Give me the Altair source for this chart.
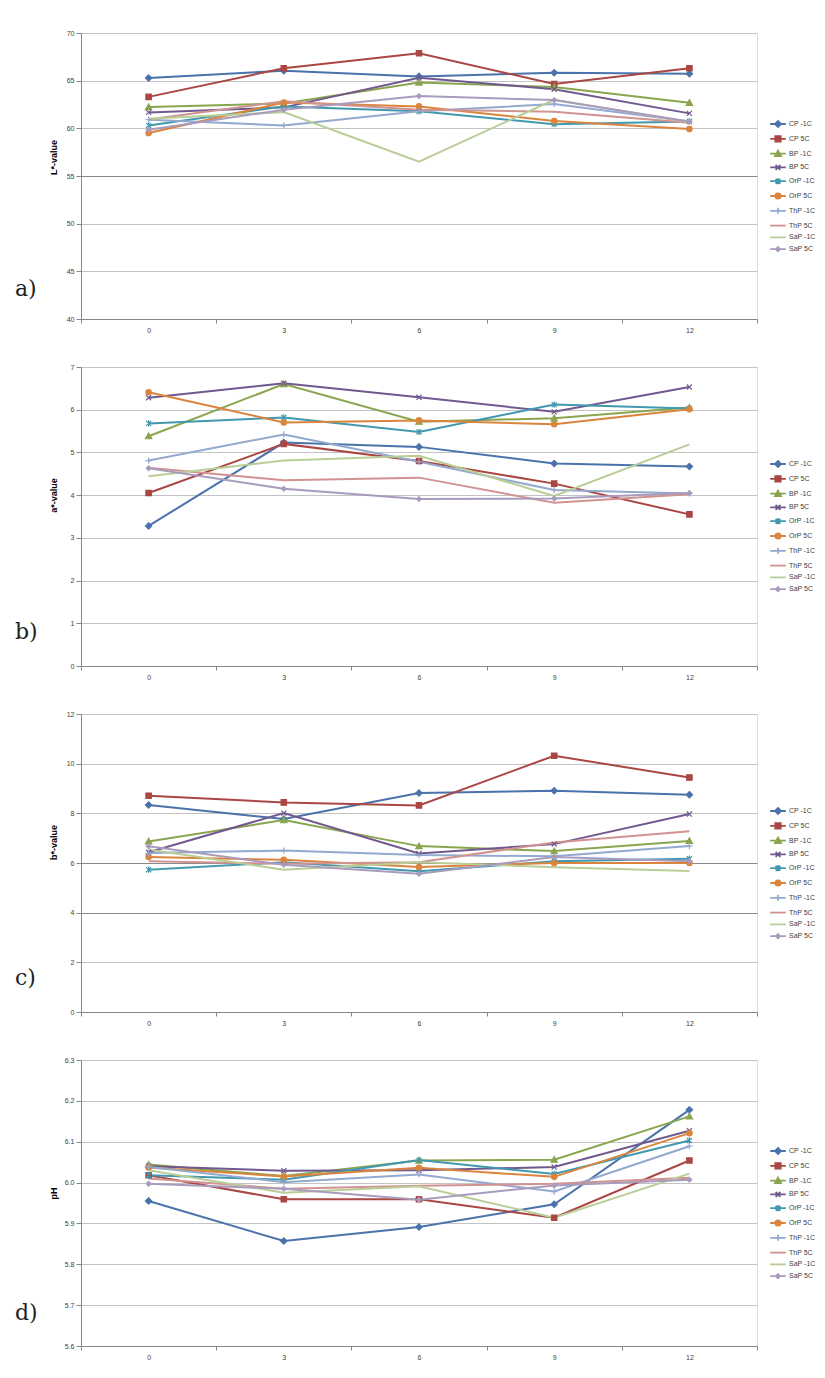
import altair as alt
import pandas as pd

DAYS = [0, 3, 6, 9, 12]
SERIES = ["CP -1C", "CP 5C", "BP -1C", "BP 5C", "OrP -1C", "OrP 5C",
          "ThP -1C", "ThP 5C", "SaP -1C", "SaP 5C"]

L_VALUES = [
    [65.27, 66.05, 65.45, 65.83, 65.73],
    [63.3, 66.3, 67.87, 64.65, 66.3],
    [62.23, 62.6, 64.8, 64.33, 62.68],
    [61.67, 62.2, 65.3, 64.1, 61.57],
    [60.3, 62.3, 61.8, 60.44, 60.72],
    [59.5, 62.7, 62.3, 60.76, 59.92],
    [60.9, 60.3, 61.78, 62.55, 60.72],
    [60.93, 62.83, 61.95, 61.74, 60.58],
    [61.0, 61.7, 56.5, 63.0, 60.65],
    [59.85, 61.95, 63.38, 62.96, 60.72],
]
A_VALUES = [
    [3.28, 5.23, 5.13, 4.74, 4.67],
    [4.05, 5.2, 4.8, 4.27, 3.55],
    [5.38, 6.6, 5.72, 5.8, 6.05],
    [6.28, 6.62, 6.29, 5.95, 6.53],
    [5.68, 5.82, 5.48, 6.12, 6.03],
    [6.41, 5.7, 5.75, 5.66, 6.01],
    [4.81, 5.42, 4.78, 4.12, 4.04],
    [4.64, 4.35, 4.41, 3.82, 4.02],
    [4.44, 4.81, 4.92, 3.98, 5.19],
    [4.63, 4.15, 3.91, 3.92, 4.05],
]
B_VALUES = [
    [8.34, 7.77, 8.82, 8.91, 8.75],
    [8.71, 8.44, 8.32, 10.32, 9.44],
    [6.87, 7.73, 6.68, 6.48, 6.89],
    [6.43, 8.01, 6.38, 6.76, 7.97],
    [5.73, 6.03, 5.67, 6.07, 6.17],
    [6.24, 6.13, 5.84, 6.0, 6.0],
    [6.4, 6.5, 6.32, 6.27, 6.68],
    [6.07, 5.97, 6.03, 6.83, 7.28],
    [6.54, 5.73, 6.03, 5.83, 5.68],
    [6.67, 5.93, 5.57, 6.24, 6.07],
]
PH_VALUES = [
    [5.955, 5.857, 5.891, 5.947, 6.178],
    [6.018, 5.959, 5.959, 5.914, 6.054],
    [6.044, 6.016, 6.054, 6.056, 6.162],
    [6.04, 6.029, 6.03, 6.038, 6.127],
    [6.018, 6.007, 6.055, 6.021, 6.103],
    [6.037, 6.015, 6.036, 6.014, 6.121],
    [6.038, 6.001, 6.02, 5.978, 6.089],
    [6.01, 5.985, 5.992, 5.997, 6.012],
    [6.03, 5.975, 5.991, 5.914, 6.022],
    [5.997, 5.985, 5.958, 5.993, 6.007],
]

Y_TITLES = ["L*-value", "a*-value", "b*-value", "pH"]
PANEL_LABELS = ["a)", "b)", "c)", "d)"]
Y_TICKS_L = [40, 45, 50, 55, 60, 65, 70]
Y_TICKS_A = [0, 1, 2, 3, 4, 5, 6, 7]
Y_TICKS_B = [0, 2, 4, 6, 8, 10, 12]
Y_TICKS_PH = [5.6, 5.7, 5.8, 5.9, 6.0, 6.1, 6.2, 6.3]
X_TICK_BOUNDS = [-1.5, 1.5, 4.5, 7.5, 10.5, 13.5]

# styles
COLORS = ["#4A72AB", "#AA4643", "#89A54E", "#71588F", "#4198AF", "#DB843D",
          "#93A9CF", "#D19392", "#B9CD96", "#A99BBD"]
LINE_WIDTHS = [2, 2, 2, 2, 2, 2, 1.6, 1.6, 1.6, 1.6]
MARKERS = [
    "M0,-1L1,0L0,1L-1,0Z",
    "M-0.85,-0.85L0.85,-0.85L0.85,0.85L-0.85,0.85Z",
    "M0,-1L1,0.8L-1,0.8Z",
    "M-0.8,-0.8L0.8,0.8M-0.8,0.8L0.8,-0.8",
    "M-0.8,-0.8L0.8,0.8M-0.8,0.8L0.8,-0.8M0,-1L0,1",
    "M-0.85,0A0.85,0.85 0 1,0 0.85,0A0.85,0.85 0 1,0 -0.85,0Z",
    "M-1,0L1,0M0,-1L0,1",
    "M0,0L0,0",
    "M0,0L0,0",
    "M0,-0.75L0.75,0L0,0.75L-0.75,0Z",
]
LEGEND_SYMBOLS = [
    "M-1.3,0L1.3,0M0,-0.5L0.5,0L0,0.5L-0.5,0Z",
    "M-1.3,0L1.3,0M-0.45,-0.45L0.45,-0.45L0.45,0.45L-0.45,0.45Z",
    "M-1.3,0L1.3,0M0,-0.5L0.5,0.4L-0.5,0.4Z",
    "M-1.3,0L1.3,0M-0.4,-0.4L0.4,0.4M-0.4,0.4L0.4,-0.4",
    "M-1.3,0L1.3,0M-0.4,-0.4L0.4,0.4M-0.4,0.4L0.4,-0.4M0,-0.5L0,0.5",
    "M-1.3,0L1.3,0M-0.45,0A0.45,0.45 0 1,0 0.45,0A0.45,0.45 0 1,0 -0.45,0Z",
    "M-1.3,0L1.3,0M0,-0.5L0,0.5",
    "M-1.3,0L1.3,0",
    "M-1.3,0L1.3,0",
    "M-1.3,0L1.3,0M0,-0.35L0.35,0L0,0.35L-0.35,0Z",
]

AXIS_GRAY = "#868686"
GRID_GRAY = "#c4c4c4"
FONT = "Liberation Sans"
NARROW = "Liberation Sans Narrow, Liberation Sans"
W = 676


def panel(values, ytitle, yticks, label, height, dark_test, title_y, legend_y, yfmt, label_dy):
    rows = [{"series": s, "day": d, "value": v}
            for s, vals in zip(SERIES, values) for d, v in zip(DAYS, vals)]
    df = pd.DataFrame(rows)
    base = alt.Chart(df)

    xscale = alt.Scale(domain=[X_TICK_BOUNDS[0], X_TICK_BOUNDS[-1]], nice=False, zero=False)
    yscale = alt.Scale(domain=[yticks[0], yticks[-1]], nice=False, zero=False)
    xaxis = alt.Axis(
        values=sorted(DAYS + X_TICK_BOUNDS), title=None, grid=False,
        labelExpr="datum.value % 3 === 0 ? datum.label : ''",
        tickColor={"condition": {"test": "datum.value % 3 === 0", "value": "transparent"},
                   "value": AXIS_GRAY},
        tickSize=4, labelPadding=3, labelFontSize=7, labelColor="#404040",
        labelFont=NARROW, domainColor=AXIS_GRAY, labelOverlap=False, labelFlush=False,
    )
    grid_color = GRID_GRAY
    if dark_test:
        grid_color = {"condition": {"test": dark_test, "value": "#8a8a8a"}, "value": GRID_GRAY}
    yaxis = alt.Axis(
        values=yticks, format=yfmt, title=ytitle, grid=True, gridColor=grid_color,
        domainColor=AXIS_GRAY, tickColor=AXIS_GRAY, tickSize=5, labelPadding=2,
        labelFontSize=7, labelColor="#404040", labelFont=NARROW,
        titleFont=FONT, titleFontSize=9, titleFontWeight="bold", titleColor="#000000",
        titleX=-23, titleY=title_y, titleBaseline="bottom", titleAngle=-90,
    )
    x = alt.X("day:Q", scale=xscale, axis=xaxis)
    y = alt.Y("value:Q", scale=yscale, axis=yaxis)
    xs = alt.X("day:Q")
    ys = alt.Y("value:Q")

    color_scale = alt.Scale(domain=SERIES, range=COLORS)

    lines = base.mark_line().encode(
        x=x, y=y,
        stroke=alt.Stroke("series:N", scale=color_scale, legend=None),
        strokeWidth=alt.StrokeWidth("series:N", scale=alt.Scale(domain=SERIES, range=LINE_WIDTHS),
                                    legend=None),
        order=alt.Order("day:Q"),
    )
    points = base.mark_point(filled=True, opacity=1, size=40, strokeWidth=1.2).encode(
        x=xs, y=ys,
        fill=alt.Fill("series:N", scale=color_scale, legend=None),
        stroke=alt.Stroke("series:N", scale=color_scale, legend=None),
        shape=alt.Shape("series:N", scale=alt.Scale(domain=SERIES, range=MARKERS), legend=None),
    )
    leg = alt.Legend(
        title=None, orient="none", legendX=690, legendY=legend_y,
        symbolSize=144, symbolStrokeWidth=1.8, labelFontSize=7, labelColor="#404040",
        labelFont=NARROW, labelOffset=4, rowPadding=0.8, padding=0,
    )
    legend_layer = base.transform_filter("datum.day < -100").mark_point(
        filled=True, opacity=1, strokeWidth=1.8
    ).encode(
        x=xs, y=ys,
        fill=alt.Fill("series:N", scale=color_scale, legend=leg),
        stroke=alt.Stroke("series:N", scale=color_scale, legend=leg),
        shape=alt.Shape("series:N", scale=alt.Scale(domain=SERIES, range=LEGEND_SYMBOLS), legend=leg),
    )
    text = alt.Chart(pd.DataFrame({"label": [label]})).mark_text(
        font="DejaVu Serif", fontSize=22, align="left", baseline="alphabetic", color="#222222"
    ).encode(text="label:N", x=alt.value(-66), y=alt.value(height - label_dy))

    return alt.layer(lines, points, legend_layer, text).resolve_scale(
        fill="independent", stroke="independent", shape="independent", strokeWidth="independent"
    ).properties(width=W, height=height)


pa = panel(L_VALUES, Y_TITLES[0], Y_TICKS_L, PANEL_LABELS[0], 286, "datum.value === 55", 124, 84, "d", 23.5)
pb = panel(A_VALUES, Y_TITLES[1], Y_TICKS_A, PANEL_LABELS[1], 299, None, 128, 90, "d", 27.5)
pc = panel(B_VALUES, Y_TITLES[2], Y_TICKS_B, PANEL_LABELS[2], 298,
           "datum.value === 4 || datum.value === 6", 128, 90, "d", 27.5)
pd_ = panel(PH_VALUES, Y_TITLES[3], Y_TICKS_PH, PANEL_LABELS[3], 286, None, 133, 84, ".1f", 26.5)

chart = alt.vconcat(pa, pb, pc, pd_, spacing=48, bounds="flush").resolve_scale(
    fill="independent", stroke="independent", shape="independent", strokeWidth="independent"
).properties(
    padding={"left": 6, "top": 20, "right": 0, "bottom": 2}
).configure_view(stroke=None).configure(font=FONT, background="white")

chart.save("out.html", embed_options={"renderer": "svg", "actions": False})
